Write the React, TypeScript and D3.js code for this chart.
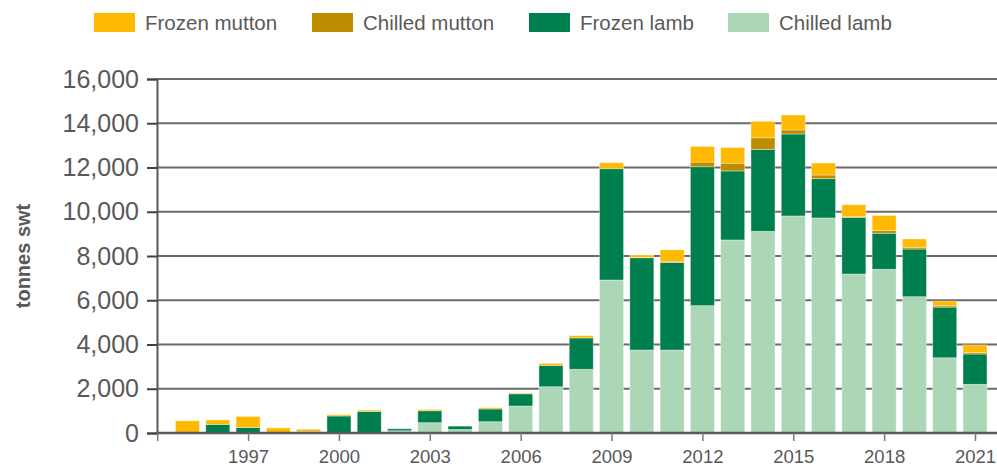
import React, { useEffect, useRef } from 'react'
import * as d3 from 'd3'

const years = d3.range(1995, 2022)
const frozenMutton = [550, 200, 500, 230, 100, 60, 60, 0, 55, 0, 60, 40, 90, 105, 270, 105, 540, 710, 705, 740, 680, 540, 540, 680, 375, 210, 350]
const chilledMutton = [0, 0, 0, 0, 0, 0, 0, 0, 0, 0, 0, 0, 0, 0, 0, 20, 30, 210, 350, 525, 180, 165, 30, 120, 80, 60, 60]
const frozenLamb = [0, 390, 250, 0, 70, 770, 975, 90, 540, 150, 575, 550, 965, 1415, 5030, 4170, 3960, 6280, 3120, 3705, 3705, 1775, 2560, 1630, 2155, 2290, 1370]
const chilledLamb = [0, 0, 0, 0, 0, 0, 0, 100, 465, 160, 510, 1220, 2090, 2880, 6915, 3750, 3750, 5755, 8725, 9115, 9810, 9720, 7185, 7400, 6160, 3400, 2200]

const yTicks = [0, 2000, 4000, 6000, 8000, 10000, 12000, 14000, 16000]
const xTicks = [1994, 1997, 2000, 2003, 2006, 2009, 2012, 2015, 2018, 2021]

const series = [
  { key: 'chilledLamb', label: 'Chilled lamb', color: '#abd7b7', values: chilledLamb },
  { key: 'frozenLamb', label: 'Frozen lamb', color: '#007f4e', values: frozenLamb },
  { key: 'chilledMutton', label: 'Chilled mutton', color: '#bf8c00', values: chilledMutton },
  { key: 'frozenMutton', label: 'Frozen mutton', color: '#ffb900', values: frozenMutton },
]
const legendOrder = ['frozenMutton', 'chilledMutton', 'frozenLamb', 'chilledLamb']

const W = 997
const H = 468
const FONT = '"Liberation Sans", Arial, sans-serif'
const TEXT = '#595959'

export default function App() {
  const svgRef = useRef<SVGSVGElement>(null)

  useEffect(() => {
    document.body.style.margin = '0'
    if (!svgRef.current) return
    const svg = d3.select(svgRef.current)
    svg.selectAll('*').remove()

    const x = d3.scaleLinear().domain([1994, 2021]).range([157.2, 975])
    const y = d3.scaleLinear().domain([0, 16000]).range([433, 79])
    const barW = 24

    // 網格線
    svg.append('g')
      .selectAll('line')
      .data(yTicks.slice(1))
      .enter()
      .append('line')
      .attr('x1', 157).attr('x2', W)
      .attr('y1', d => y(d)).attr('y2', d => y(d))
      .style('stroke', '#6a6a6a')
      .style('stroke-width', 2)

    // 堆疊數據
    const rows = years.map((yr, i) => {
      const r: any = { year: yr }
      series.forEach(s => { r[s.key] = s.values[i] })
      return r
    })
    const stacked = d3.stack().keys(series.map(s => s.key))(rows)
    const colorOf = Object.fromEntries(series.map(s => [s.key, s.color]))

    svg.append('g')
      .selectAll('g')
      .data(stacked)
      .enter()
      .append('g')
      .style('fill', d => colorOf[d.key])
      .selectAll('rect')
      .data(d => d.filter(p => p[1] - p[0] > 0))
      .enter()
      .append('rect')
      .attr('x', d => x((d.data as any).year) - barW / 2)
      .attr('y', d => y(d[1]))
      .attr('width', barW)
      .attr('height', d => y(d[0]) - y(d[1]))
      .style('stroke', 'rgba(255,255,255,0.45)')
      .style('stroke-width', 0.8)

    // Y軸
    const gy = svg.append('g').attr('transform', 'translate(157,0)')
      .call(d3.axisLeft(y).tickValues(yTicks).tickSize(10).tickPadding(8).tickFormat(d3.format(',')))
    gy.select('.domain').style('stroke', TEXT).style('stroke-width', 2)
    gy.selectAll('.tick line').style('stroke', '#404040').style('stroke-width', 2)
    gy.selectAll('.tick text')
      .style('font-family', FONT)
      .style('font-size', '25px')
      .style('fill', TEXT)

    // X軸
    const gx = svg.append('g').attr('transform', 'translate(0,433)')
      .call(d3.axisBottom(x).tickValues(xTicks).tickSize(8).tickPadding(9).tickFormat(d => (+d === 1994 ? '' : String(d))))
    gx.select('.domain').attr('d', `M157,0H${W}`).style('stroke', TEXT).style('stroke-width', 2.5)
    gx.selectAll('.tick line').style('stroke', '#7a7a7a').style('stroke-width', 1.5)
    gx.selectAll('.tick text')
      .style('font-family', FONT)
      .style('font-size', '18.5px')
      .style('fill', TEXT)

    // 軸標題
    svg.append('text')
      .attr('transform', 'translate(25,256) rotate(-90)')
      .attr('text-anchor', 'middle')
      .attr('dominant-baseline', 'middle')
      .style('font-family', FONT)
      .style('font-size', '20px')
      .style('font-weight', 'bold')
      .style('fill', TEXT)
      .text('tonnes swt')

    // 圖例
    const legendX = [94, 312, 529, 728]
    const lg = svg.append('g')
      .selectAll('g')
      .data(legendOrder.map(k => series.find(s => s.key === k)!))
      .enter()
      .append('g')
      .attr('transform', (_, i) => `translate(${legendX[i]},13)`)
    lg.append('rect')
      .attr('width', 41).attr('height', 19)
      .style('fill', d => d.color)
    lg.append('text')
      .attr('x', 51).attr('y', 16.5)
      .style('font-family', FONT)
      .style('font-size', '20.5px')
      .style('fill', TEXT)
      .text(d => d.label)
  }, [])

  return (
    <div style={{ position: 'absolute', left: 0, top: 0 }}>
      <svg ref={svgRef} width={W} height={H} style={{ display: 'block', background: '#fff' }} />
    </div>
  )
}
